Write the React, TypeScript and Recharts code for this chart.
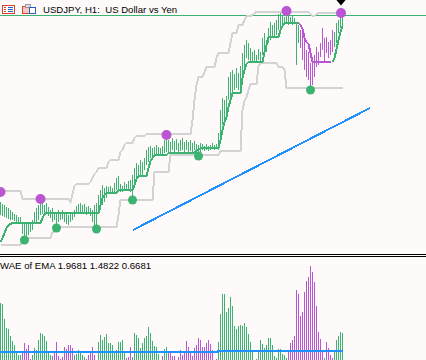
import React from 'react';
import { ComposedChart, BarChart, Bar, Line, Scatter, XAxis, YAxis, Cell } from 'recharts';

const GREEN = '#3CB371';
const VIOLET = '#BA55D3';
const GRAY = '#D3D3D3';
const BLUE = '#1E90FF';
const BG = '#FFFAFA';

// price bars (levels, higher = higher price)
const highs = [
  48, 46, 45, 43, 42, 40, 38, 36, 35, 33,
  33, 27, 26, 28, 26, 28, 30, 38, 42, 45,
  51, 47, 45, 47, 43, 40, 42, 38, 36, 40,
  38, 40, 37, 38, 35, 36, 38, 40, 44, 46,
  47, 45, 46, 43, 44, 42, 40, 45, 47, 55,
  60, 65, 62, 64, 63, 64, 62, 67, 72, 74,
  66, 64, 68, 66, 69, 70, 75, 82, 87, 85,
  90, 88, 92, 100, 103, 104, 102, 103, 105, 103,
  102, 104, 110, 115, 110, 108, 112, 109, 111, 107,
  110, 112, 108, 110, 108, 110, 107, 109, 106, 105,
  107, 106, 104, 106, 104, 105, 107, 105, 106, 117,
  140, 152, 150, 154, 173, 178, 180, 176, 182, 177,
  184, 197, 205, 210, 207, 202, 198, 200, 195, 201,
  198, 212, 217, 210, 222, 228, 225, 227, 230, 236,
  237, 235, 233, 238, 234, 233, 234, 232, 228, 225,
  220, 217, 210, 200, 198, 187, 190, 195, 203, 198,
  207, 222, 212, 213, 208, 210, 220, 218, 227, 230,
  237, 235,
];
const lows = [
  35, 34, 33, 32, 31, 30, 30, 29, 28, 28,
  27, 16, 12, 14, 15, 18, 20, 27, 28, 30,
  35, 36, 35, 38, 34, 32, 28, 30, 22, 28,
  30, 31, 28, 26, 25, 28, 30, 33, 36, 38,
  38, 37, 36, 35, 36, 34, 28, 24, 22, 38,
  40, 45, 48, 52, 56, 57, 56, 58, 60, 58,
  58, 58, 60, 59, 60, 58, 50, 65, 72, 72,
  75, 74, 80, 85, 88, 92, 93, 94, 95, 95,
  95, 96, 97, 98, 98, 97, 100, 98, 100, 98,
  99, 100, 98, 100, 98, 99, 98, 100, 98, 94,
  98, 100, 99, 100, 99, 100, 101, 100, 101, 100,
  115, 125, 130, 135, 150, 153, 158, 160, 162, 160,
  165, 172, 182, 192, 190, 188, 188, 188, 187, 190,
  188, 195, 200, 198, 207, 210, 212, 213, 215, 220,
  222, 223, 226, 226, 225, 226, 225, 226, 185, 207,
  202, 190, 180, 173, 170, 162, 165, 173, 183, 185,
  193, 200, 188, 197, 192, 195, 198, 203, 207, 217,
  222, 223,
];
const bearishSpans = [[150, 166]];

const trendUp = [
  8, 12, 17, 22, 25, 26, 27, 27, 27, 27,
  27, 27, 27, 27, 27, 27, 27, 27, 27, 27,
  27, 32, 36, 37, 37, 37, 37, 37, 37, 37,
  37, 37, 37, 37, 37, 37, 37, 37, 37, 37,
  37, 37, 37, 37, 37, 37, 37, 37, 37, 37,
  45, 52, 55, 57, 57, 57, 57, 57, 57, 60,
  60, 60, 60, 60, 60, 60, 60, 65, 71, 74,
  74, 74, 74, 74, 82, 89, 92, 95, 95, 95,
  95, 95, 95, 95, 97, 97, 97, 97, 97, 97,
  97, 97, 97, 97, 97, 97, 97, 97, 100, 100,
  102, 102, 102, 102, 102, 102, 102, 102, 102, 102,
  110, 120, 128, 133, 143, 150, 157, 157, 157, 157,
  157, 172, 180, 186, 188, 188, 188, 188, 188, 188,
  188, 188, 198, 205, 213, 213, 213, 213, 213, 213,
  220, 224, 227, 227, 227, 227, 227, 227, 227, 227,
  null, null, null, null, null, null, null, null, null, null,
  null, null, null, null, null, null, 188, 192, 201, 210,
  218, 224,
];
const trendDown = [
  ...Array(149).fill(null),
  227, 225, 221, 212, 208, 206, 197, 188, 188, 188,
  188, 188, 188, 188, 188, 188, 188,
  null, null, null, null, null,
];

const channelUpper = [
  59, 59, 59, 59, 59, 59, 59, 59, 59, 59,
  59, 51, 51, 51, 51, 51, 51, 51, 51, 51,
  51, 51, 51, 51, 51, 51, 51, 51, 51, 51,
  51, 51, 51, 51, 51, 48, 56, 64, 66, 66,
  66, 66, 66, 66, 66, 68, 72, 76, 78, 82,
  82, 82, 82, 82, 88, 90, 90, 90, 90, 90,
  98, 100, 105, 107, 107, 107, 107, 112, 114, 114,
  114, 114, 114, 116, 116, 116, 116, 116, 116, 116,
  116, 116, 116, 116, 116, 116, 116, 116, 116, 116,
  116, 116, 116, 116, 116, 116, 130, 150, 165, 173,
  173, 173, 178, 183, 183, 183, 183, 183, 192, 197,
  197, 197, 197, 197, 197, 207, 217, 217, 217, 225,
  225, 225, 230, 234, 234, 234, 235, 237, 238, 238,
  238, 238, 238, 238, 238, 238, 238, 238, 238, 238,
  238, 238, 238, 238, 238, 238, 238, 238, 238, 238,
  238, 238, 238, 238, 238, 236, 234, 234, 236, 237,
  237, 237, 237, 237, 237, 237, 237, 237, 237, 237,
  237, 237,
];
const channelLower = [
  5, 5, 5, 5, 5, 5, 5, 5, 5, 5,
  5, 12, 12, 12, 12, 12, 12, 12, 12, 12,
  12, 12, 12, 12, 12, 12, 18, 18, 23, 23,
  23, 23, 23, 23, 23, 23, 23, 23, 23, 23,
  23, 23, 23, 23, 23, 23, 23, 23, 23, 23,
  23, 23, 23, 23, 23, 23, 23, 23, 23, 35,
  50, 50, 50, 50, 50, 50, 50, 50, 50, 50,
  50, 50, 50, 50, 50, 50, 50, 78, 78, 78,
  78, 78, 78, 78, 78, 95, 95, 95, 95, 95,
  95, 95, 95, 95, 95, 95, 95, 95, 95, 95,
  95, 95, 95, 95, 95, 95, 95, 95, 95, 95,
  99, 99, 99, 99, 99, 99, 99, 99, 99, 99,
  99, 140, 149, 153, 160, 166, 166, 166, 166, 184,
  187, 187, 187, 187, 187, 187, 187, 187, 187, 183,
  183, 183, 180, 162, 162, 162, 162, 162, 162, 162,
  162, 162, 162, 162, 162, 162, 162, 162, 162, 162,
  162, 162, 162, 162, 162, 162, 162, 162, 162, 162,
  162, 162,
];

const sellSignals = [
  { i: 0, sig: 58 }, { i: 20, sig: 51 }, { i: 83, sig: 115 }, { i: 143, sig: 239 }, { i: 170.25, sig: 237 },
];
const buySignals = [
  { i: 12, sig: 10 }, { i: 28, sig: 22 }, { i: 48, sig: 21 }, { i: 66, sig: 50 }, { i: 99, sig: 94 }, { i: 155, sig: 160 },
];
const trendLinePts = [{ i: 66.25, tl: 20 }, { i: 184.75, tl: 142 }];
const arrowMark = [{ i: 170.25, mk: 247.5 }];
const bidLine = [{ i: -0.25, bid: 234.5 }, { i: 212.75, bid: 234.5 }];

// lower window: WAE of EMA
const histValues = [
  57, 56, 41, 32, 31, 24, 19, 15, 9, 5,
  5, 9, 17, 11, 15, 1, 5, 12, 10, 20,
  27, 26, 24, 19, 9, 5, 4, 8, 18, 4,
  1, 3, 13, 11, 15, 15, 12, 5, 6, 10,
  9, 5, 3, 1, 5, 9, 13, 5, 0, 18,
  25, 20, 23, 26, 17, 17, 15, 9, 10, 18,
  18, 20, 7, 2, 3, 13, 3, 27, 25, 22,
  12, 17, 22, 24, 33, 27, 19, 14, 13, 6,
  0, 4, 11, 13, 7, 7, 4, 4, 0, 3,
  10, 5, 9, 19, 13, 7, 4, 12, 15, 22,
  20, 13, 13, 17, 20, 16, 10, 0, 1, 18,
  46, 66, 66, 48, 52, 63, 54, 34, 31, 34,
  35, 34, 37, 33, 26, 18, 10, 0, 1, 9,
  20, 16, 12, 15, 22, 22, 15, 4, 2, 11,
  11, 6, 5, 2, 9, 17, 20, 24, 70, 66,
  44, 48, 68, 79, 83, 94, 88, 78, 54, 28,
  21, 10, 2, 18, 12, 5, 2, 10, 20, 24,
  28, 27,
];
const histDir = [
  'gggggggggg', 'gvvvvvgggg', 'ggggggvvvv', 'vvvvvvvggg', 'gggvvvvvgg',
  'gggggggggg', 'gggvvvgggg', 'gggggggggg', 'gvggvvvvvv', 'vvvvvvvvvv',
  'vvvvvvvvvg', 'gggggggggg', 'ggggggggvg', 'gggggggggg', 'ggggvvvvvv',
  'vvvvvvvvvv', 'vvgvvvvggg', 'gg',
].join('');
const deadZone = [{ i: -0.25, dz: 8 }, { i: 108.75, dz: 8 }, { i: 108.75, dz: 9 }, { i: 171, dz: 9 }];

const isBear = (i: number) => bearishSpans.some(([a, b]) => i >= a && i <= b);

const priceRows = highs.map((h, i) => ({
  i,
  range: [lows[i], h],
  up: trendUp[i],
  dn: trendDown[i],
  upper: channelUpper[i],
  lower: channelLower[i],
}));
const histRows = histValues.map((v, i) => ({ i, v }));

const X_DOMAIN: [number, number] = [-0.25, 212.75];

const Dot = (color: string, r: number) => (p: any) => (
  <circle cx={p.cx} cy={p.cy} r={r} fill={color} shapeRendering="geometricPrecision" />
);
const Arrow = (p: any) => (
  <polygon points={`${p.cx - 5},${p.cy - 3} ${p.cx + 5},${p.cy - 3} ${p.cx},${p.cy + 3}`} fill="#000" shapeRendering="geometricPrecision" />
);
const ThinBar = (p: any) => {
  if (p.height == null || p.width == null) return null;
  const cx = Math.floor(p.x + p.width / 2);
  const h = Math.max(Math.abs(p.height), 1);
  const y = p.height >= 0 ? p.y : p.y + p.height;
  return <rect x={cx} y={Math.round(y)} width={1} height={Math.round(h)} fill={p.fill} shapeRendering="crispEdges" />;
};

export default function App() {
  return (
    <div style={{ position: 'absolute', left: 0, top: 0, width: 426, height: 360, background: BG, overflow: 'hidden' }}>
      <div style={{ position: 'absolute', left: 0, top: 0, shapeRendering: 'crispEdges' } as any}>
        <ComposedChart width={426} height={250} data={priceRows} margin={{ top: 0, right: 0, bottom: 0, left: 0 }}>
          <XAxis dataKey="i" type="number" domain={X_DOMAIN} hide allowDataOverflow />
          <YAxis type="number" domain={[0, 250]} hide allowDataOverflow />
          <Line data={bidLine} dataKey="bid" stroke={GREEN} strokeWidth={1} dot={false} shapeRendering="geometricPrecision" isAnimationActive={false} />
          <Line dataKey="upper" stroke={GRAY} strokeWidth={2} dot={false} isAnimationActive={false} />
          <Line dataKey="lower" stroke={GRAY} strokeWidth={2} dot={false} isAnimationActive={false} />
          <Bar dataKey="range" barSize={1} shape={ThinBar} isAnimationActive={false}>
            {priceRows.map((r) => (
              <Cell key={r.i} fill={isBear(r.i) ? VIOLET : GREEN} />
            ))}
          </Bar>
          <Line dataKey="up" stroke={GREEN} strokeWidth={2} dot={false} connectNulls={false} isAnimationActive={false} />
          <Line dataKey="dn" stroke={VIOLET} strokeWidth={2} dot={false} connectNulls={false} isAnimationActive={false} />
          <Line data={trendLinePts} dataKey="tl" stroke={BLUE} strokeWidth={2} dot={false} isAnimationActive={false} />
          <Scatter data={sellSignals} dataKey="sig" shape={Dot(VIOLET, 5)} isAnimationActive={false} />
          <Scatter data={buySignals} dataKey="sig" shape={Dot(GREEN, 4.5)} isAnimationActive={false} />
          <Scatter data={arrowMark} dataKey="mk" shape={Arrow} isAnimationActive={false} />
        </ComposedChart>
      </div>

      <svg width={426} height={14} style={{ position: 'absolute', left: 0, top: 0 }} shapeRendering="crispEdges">
        <g>
          <rect x={2.5} y={5.5} width={12} height={8} fill="#fff" stroke="#E0402A" />
          <line x1={4} y1={7.5} x2={6} y2={7.5} stroke="#E0402A" />
          <line x1={4} y1={9.5} x2={6} y2={9.5} stroke="#E0402A" />
          <line x1={4} y1={11.5} x2={6} y2={11.5} stroke="#E0402A" />
          <line x1={8} y1={7.5} x2={13} y2={7.5} stroke="#2A5CC8" />
          <line x1={8} y1={9.5} x2={13} y2={9.5} stroke="#2A5CC8" />
          <line x1={8} y1={11.5} x2={13} y2={11.5} stroke="#2A5CC8" />
        </g>
        <g>
          <rect x={22.5} y={6.5} width={7} height={7} fill="#F6C8C0" stroke="#E0402A" />
          <rect x={25.5} y={4.5} width={5} height={3} fill="#ddd" stroke="#999" />
          <rect x={29.5} y={7.5} width={6} height={6} fill="#fff" stroke="#2A5CC8" />
        </g>
        <text x={43} y={13} fontFamily="'Liberation Sans', Arial, sans-serif" fontSize={9.6} fill="#000" style={{ whiteSpace: 'pre' }}>
          USDJPY, H1:  US Dollar vs Yen
        </text>
      </svg>

      <div style={{ position: 'absolute', left: 0, top: 254, width: 426, height: 1, background: '#000' }} />
      <div style={{ position: 'absolute', left: 0, top: 256, width: 426, height: 1, background: '#000' }} />

      <div style={{ position: 'absolute', left: 0, top: 257, shapeRendering: 'crispEdges' } as any}>
        <BarChart width={426} height={103} data={histRows} margin={{ top: 0, right: 0, bottom: 0, left: 0 }}>
          <XAxis dataKey="i" type="number" domain={X_DOMAIN} hide allowDataOverflow />
          <YAxis type="number" domain={[0, 103]} hide allowDataOverflow />
          <Bar dataKey="v" barSize={1} shape={ThinBar} isAnimationActive={false}>
            {histRows.map((r) => (
              <Cell key={r.i} fill={histDir[r.i] === 'v' ? VIOLET : GREEN} />
            ))}
          </Bar>
          <Line data={deadZone} dataKey="dz" stroke={BLUE} strokeWidth={2} dot={false} isAnimationActive={false} />
        </BarChart>
      </div>

      <svg width={426} height={20} style={{ position: 'absolute', left: 0, top: 257 }}>
        <text x={0} y={12} fontFamily="'Liberation Sans', Arial, sans-serif" fontSize={9.6} fill="#000">
          WAE of EMA 1.9681 1.4822 0.6681
        </text>
      </svg>
    </div>
  );
}
